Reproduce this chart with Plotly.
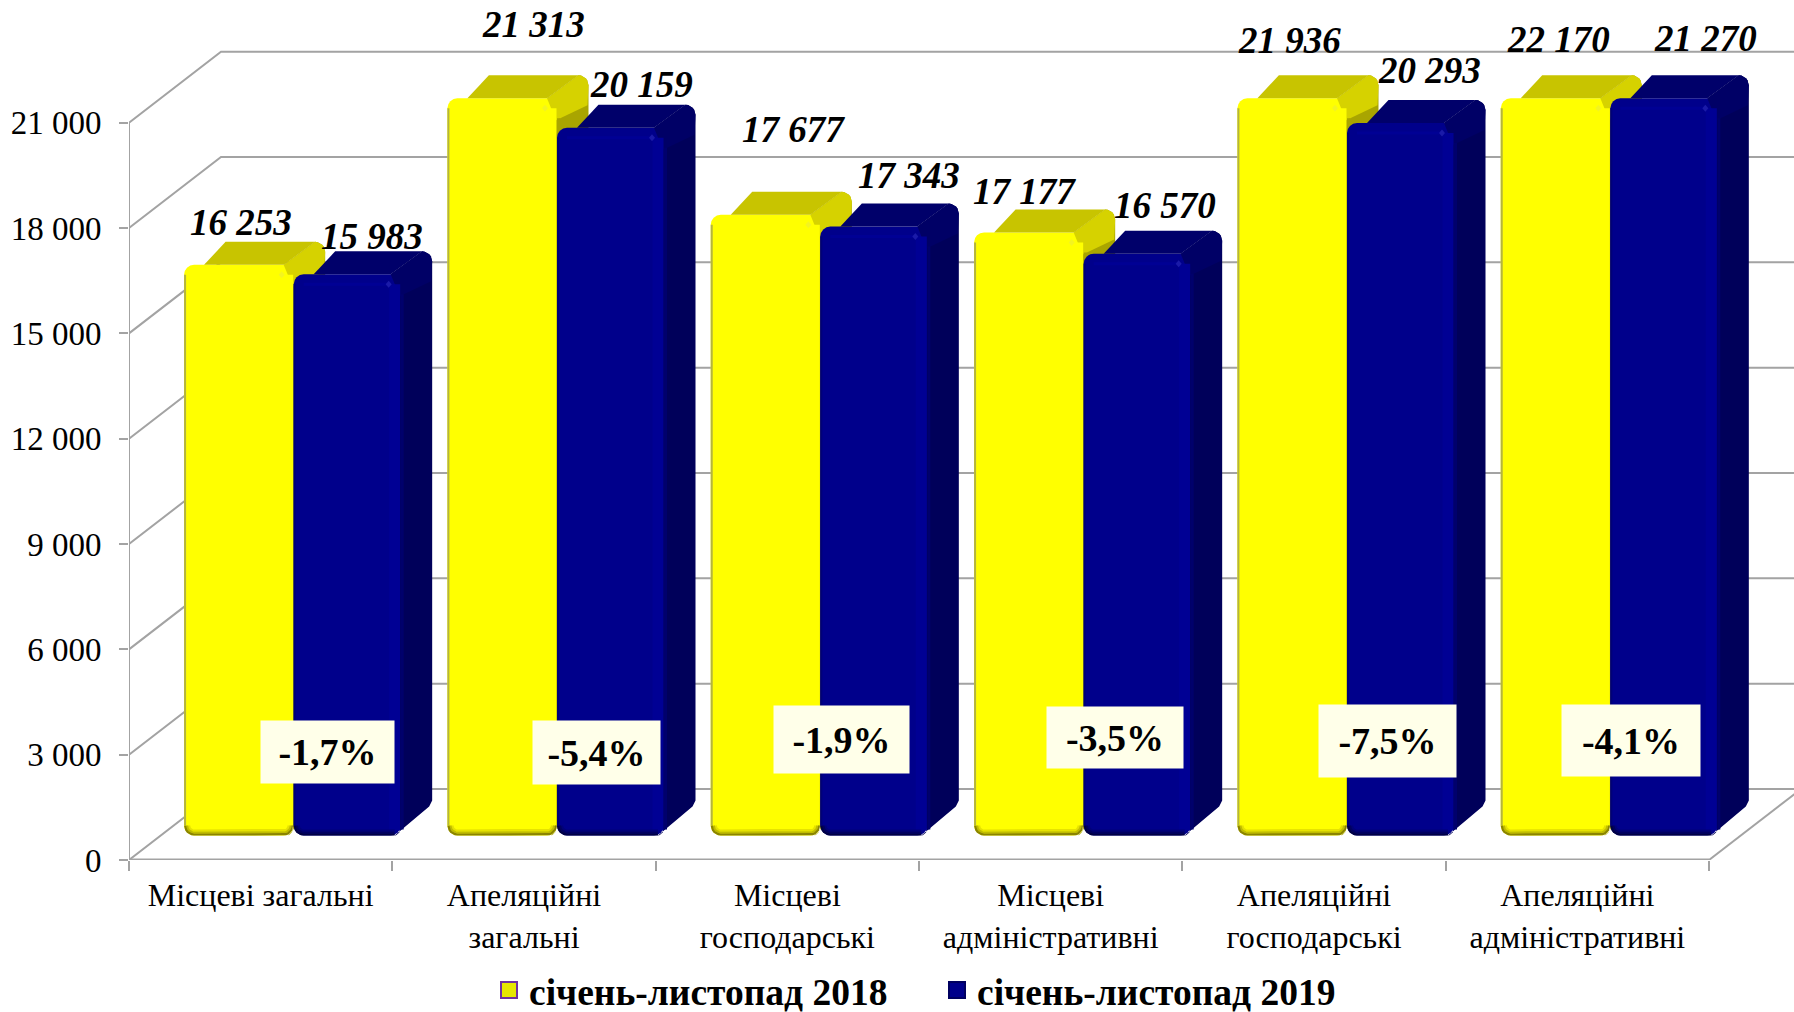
import math
import plotly.graph_objects as go

categories = ["Місцеві загальні", "Апеляційні<br>загальні", "Місцеві<br>господарські",
              "Місцеві<br>адміністративні", "Апеляційні<br>господарські", "Апеляційні<br>адміністративні"]
series_2018 = [16253, 21313, 17677, 17177, 21936, 22170]
series_2019 = [15983, 20159, 17343, 16570, 20293, 21270]
change_labels = ["-1,7%", "-5,4%", "-1,9%", "-3,5%", "-7,5%", "-4,1%"]
y_ticks = [0, 3000, 6000, 9000, 12000, 15000, 18000, 21000]
name_2018 = "січень-листопад 2018"
name_2019 = "січень-листопад 2019"

W, H = 1794, 1012
AX_L, AX_R, AX_B, AX_T = 129, 1709, 860, 122.7
Y_MAX = 21000
PX_X = 6 / (AX_R - AX_L)           # category units per pixel
PX_Y = Y_MAX / (AX_B - AX_T)       # value units per pixel
Y_TOP = AX_B * PX_Y                # axis range reaches the top of the page
X_END = -0.5 + (W - AX_L) * PX_X   # and the right edge of the page
FONT = "Liberation Serif"
GRID = "#A3A3A3"

BASE = 24.5 * PX_Y                  # bars stand in from the front of the floor
DEPTH_X, DEPTH_Y = 31.5 * PX_X, 23 * PX_Y
WALL_X, WALL_Y = 92 * PX_X, 71 * PX_Y
R = 10                              # corner radius of the bevelled bars, pixels


def poly(xs, ys, color):
    return go.Scatter(x=xs, y=ys, mode="lines", fill="toself", fillcolor=color,
                      line=dict(width=0, color=color), hoverinfo="skip",
                      showlegend=False, cliponaxis=False)


def stroke(xs, ys, color, w):
    return go.Scatter(x=xs, y=ys, mode="lines", line=dict(width=w, color=color),
                      hoverinfo="skip", showlegend=False, cliponaxis=False)


def arc(cx, cy, r, a0, a1, steps=6):
    """Points of an arc, centre in axis units, radius in pixels."""
    pts = [math.radians(a0 + (a1 - a0) * s / steps) for s in range(steps + 1)]
    return ([cx + r * math.cos(a) * PX_X for a in pts], [cy + r * math.sin(a) * PX_Y for a in pts])


def add_series(fig, values, offset, width, name, axn, round_right, c):
    xa, ya = f"x{axn}", f"y{axn}"
    idx = list(range(len(values)))
    heights = [min(v, Y_MAX) for v in values]
    fig.add_trace(go.Bar(x=idx, y=heights, base=BASE, width=width, offset=offset, name=name,
                         marker=dict(color=c["front"], line=dict(width=0), cornerradius=R),
                         showlegend=False, cliponaxis=False, xaxis=xa, yaxis=ya))
    mx, my = PX_X, PX_Y
    for i, h in zip(idx, heights):
        l, r = i + offset, i + offset + width
        t, b = BASE + h, BASE
        rx, ry = R * mx, R * my
        layer = []
        # top face
        layer.append(poly([l + 2 * rx, l + DEPTH_X + rx, r + DEPTH_X - rx, r - rx],
                          [t, t + DEPTH_Y, t + DEPTH_Y, t], c["top"]))
        # side face: rounded back corner, body and lit upper band
        ax, ay = arc(r + DEPTH_X - rx, t + DEPTH_Y - ry, R, 90, 0)
        layer.append(poly([r - rx] + ax + [r + DEPTH_X, r + DEPTH_X - 3 * mx, r - 6 * mx, r - mx, r - mx],
                          [t] + ay + [b + 35 * my, b + 29 * my, b, b, t], c["side"]))
        layer.append(poly([r - rx] + ax + [r + DEPTH_X - 1 * mx, r - mx],
                          [t] + ay + [t + DEPTH_Y - 30 * my, t - 22 * my], c["side_lit"]))
        layer.append(stroke([r + 1.5 * mx] * 2, [b + 6 * my, t - 20 * my], c["side_edge"], 3))
        # lit band near the right edge and along the top of the front
        layer.append(stroke([r - 6 * mx] * 2, [b + 5 * my, t - ry], c["band"], 11))
        layer.append(stroke([l + rx, r - 12 * mx], [t - ry] * 2, c["band"], 3))
        layer.append(poly([r - 15 * mx, r - 12 * mx, r - 9 * mx, r - 12 * mx],
                          [t - ry, t - ry + 3.5 * my, t - ry, t - ry - 3.5 * my], c["spot"]))
        # rounded lower corners, then the soft dark bottom and left edges
        wx, wy = arc(l + rx, b + ry, R + 1, 180, 270)
        layer.append(poly([l - mx] + wx + [l - mx], [b - my] + wy + [b - my], "#FFFFFF"))
        if round_right:
            wx, wy = arc(r - rx, b + ry, R + 1, 270, 360)
            layer.append(poly([r + mx] + wx + [r + mx], [b - my] + wy + [b - my], "#FFFFFF"))
        else:
            layer.append(poly([r - 6 * mx, r + mx, r + mx], [b - my, b - my, b + 5 * my], "#FFFFFF"))
        for d, col in zip((5, 3, 1), c["bottom"]):
            lx, ly = arc(l + rx, b + ry, R - d, 180, 270)
            if round_right:
                rx2, ry2 = arc(r - rx, b + ry, R - d, 270, 360)
            else:
                rx2, ry2 = [r - 6 * mx], [b + d * my]
            layer.append(stroke(lx + rx2, ly + ry2, col, 2.2))
        layer.append(stroke([l + mx] * 2, [b + ry, t - ry], c["edge"], 2))
        for tr in layer:
            tr.update(xaxis=xa, yaxis=ya)
            fig.add_trace(tr)


fig = go.Figure()

# Base layer carries the category axis
fig.add_trace(go.Bar(x=categories, y=[0] * len(categories), showlegend=False, hoverinfo="skip",
                     marker=dict(color="rgba(0,0,0,0)"), xaxis="x", yaxis="y"))

# Walls and floor, below every bar
n = len(categories)
far = n + 1
for v in y_ticks:
    t = stroke([-0.5, -0.5 + WALL_X, far], [v, v + WALL_Y, v + WALL_Y], GRID, 2)
    t.update(xaxis="x2", yaxis="y2")
    fig.add_trace(t)
for xs, ys, w in (([n - 0.5, n - 0.5 + WALL_X], [0, WALL_Y], 2),
                  ([-0.5, -0.5], [0, Y_MAX], 2),
                  ([-0.5, n - 0.5], [0, 0], 3)):
    t = stroke(xs, ys, GRID, w)
    t.update(xaxis="x2", yaxis="y2")
    fig.add_trace(t)

YELLOW = dict(front="#FFFF00", top="#C8C400", side="#A9A500", side_lit="#D6D200", side_edge="#A9A500",
              band="#FFFF00", spot="#F4F420", bottom=("#E6E200", "#C0BC00", "#8A8400"), edge="#B4B440")
BLUE = dict(front="#00008B", top="#00006A", side="#00005A", side_lit="#000066", side_edge="#00006C",
            band="#000094", spot="#1A1AA8", bottom=("#00007A", "#000060", "#000044"), edge="#000078")
add_series(fig, series_2018, -76.6 * PX_X, 109.6 * PX_X, name_2018, 3, True, YELLOW)
add_series(fig, series_2019, 33 * PX_X, 107 * PX_X, name_2019, 4, False, BLUE)

# Legend entries
for nm, col, bd in ((name_2018, "#E6E600", "#7030A0"), (name_2019, "#00008B", "#000060")):
    fig.add_trace(go.Scatter(x=[None], y=[None], mode="markers", name=nm, xaxis="x4", yaxis="y4",
                             marker=dict(symbol="square", size=16, color=col, line=dict(color=bd, width=2))))

px_x = lambda p: p / W
px_y = lambda p: 1 - p / H

# Value labels
label_pos_2018 = [(241, 222), (533, 25), (793, 129), (1024, 191), (1289, 41), (1558, 39)]
label_pos_2019 = [(372, 236), (641, 85), (909, 175), (1165, 206), (1429, 70), (1705, 38)]
annotations = []
for vals, poss in ((series_2018, label_pos_2018), (series_2019, label_pos_2019)):
    for v, (px, py) in zip(vals, poss):
        annotations.append(dict(x=px_x(px), y=px_y(py), xref="paper", yref="paper", showarrow=False,
                                xanchor="center", yanchor="middle",
                                text=f"<b><i>{v:,}</i></b>".replace(",", " "),
                                font=dict(family=FONT, size=37, color="#000000")))

# Change boxes
boxes = [(261, 394, 721, 783), (533, 660, 721, 784), (774, 909, 706, 773),
         (1047, 1183, 707, 768), (1319, 1456, 705, 777), (1562, 1700, 705, 776)]
for txt, (x0, x1, y0, y1) in zip(change_labels, boxes):
    annotations.append(dict(x=px_x((x0 + x1) / 2), y=px_y((y0 + y1) / 2), xref="paper", yref="paper",
                            showarrow=False, xanchor="center", yanchor="middle",
                            text=f"<b>{txt}</b>", width=x1 - x0, height=y1 - y0,
                            bgcolor="#FFFFE9", borderpad=0, valign="middle",
                            font=dict(family=FONT, size=38, color="#000000")))

x_dom = [AX_L / W, 1]
y_dom = [1 - AX_B / H, 1]
hidden = dict(visible=False, fixedrange=True)

fig.update_layout(
    width=W, height=H, margin=dict(l=0, r=0, t=0, b=0, autoexpand=False),
    paper_bgcolor="#FFFFFF", plot_bgcolor="rgba(0,0,0,0)",
    font=dict(family=FONT, color="#000000"),
    barmode="overlay", annotations=annotations,
    legend=dict(orientation="h", x=px_x(489), xanchor="left", y=px_y(990), yanchor="middle",
                font=dict(family=FONT, size=37.5, weight="bold"), bgcolor="rgba(0,0,0,0)",
                itemwidth=30, entrywidth=403, entrywidthmode="pixels"),
    xaxis=dict(type="category", domain=x_dom, categoryorder="array", categoryarray=categories,
               range=[-0.5, X_END], tickson="boundaries", ticks="outside", ticklen=10,
               tickcolor=GRID, tickwidth=2, showline=False,
               showgrid=False, tickfont=dict(family=FONT, size=32, color="#000000"),
               ticklabelstandoff=13, fixedrange=True, tickangle=0, automargin=False),
    yaxis=dict(domain=y_dom, range=[0, Y_TOP], tickmode="array", tickvals=y_ticks,
               ticktext=[f"{v:,}".replace(",", " ") for v in y_ticks], ticks="outside", ticklen=9,
               tickcolor=GRID, tickwidth=2, showline=False,
               showgrid=False, zeroline=False, tickfont=dict(family=FONT, size=33, color="#000000"),
               ticklabelstandoff=11, fixedrange=True, automargin=False),
)
for k in (2, 3, 4):
    fig.update_layout({
        f"xaxis{k}": dict(overlaying="x", domain=x_dom, range=[-0.5, X_END], anchor=f"y{k}", **hidden),
        f"yaxis{k}": dict(overlaying="y", domain=y_dom, range=[0, Y_TOP], anchor=f"x{k}", **hidden),
    })

fig.write_html("out.html", post_script="document.body.style.margin='0';",
               config={"displayModeBar": False})
